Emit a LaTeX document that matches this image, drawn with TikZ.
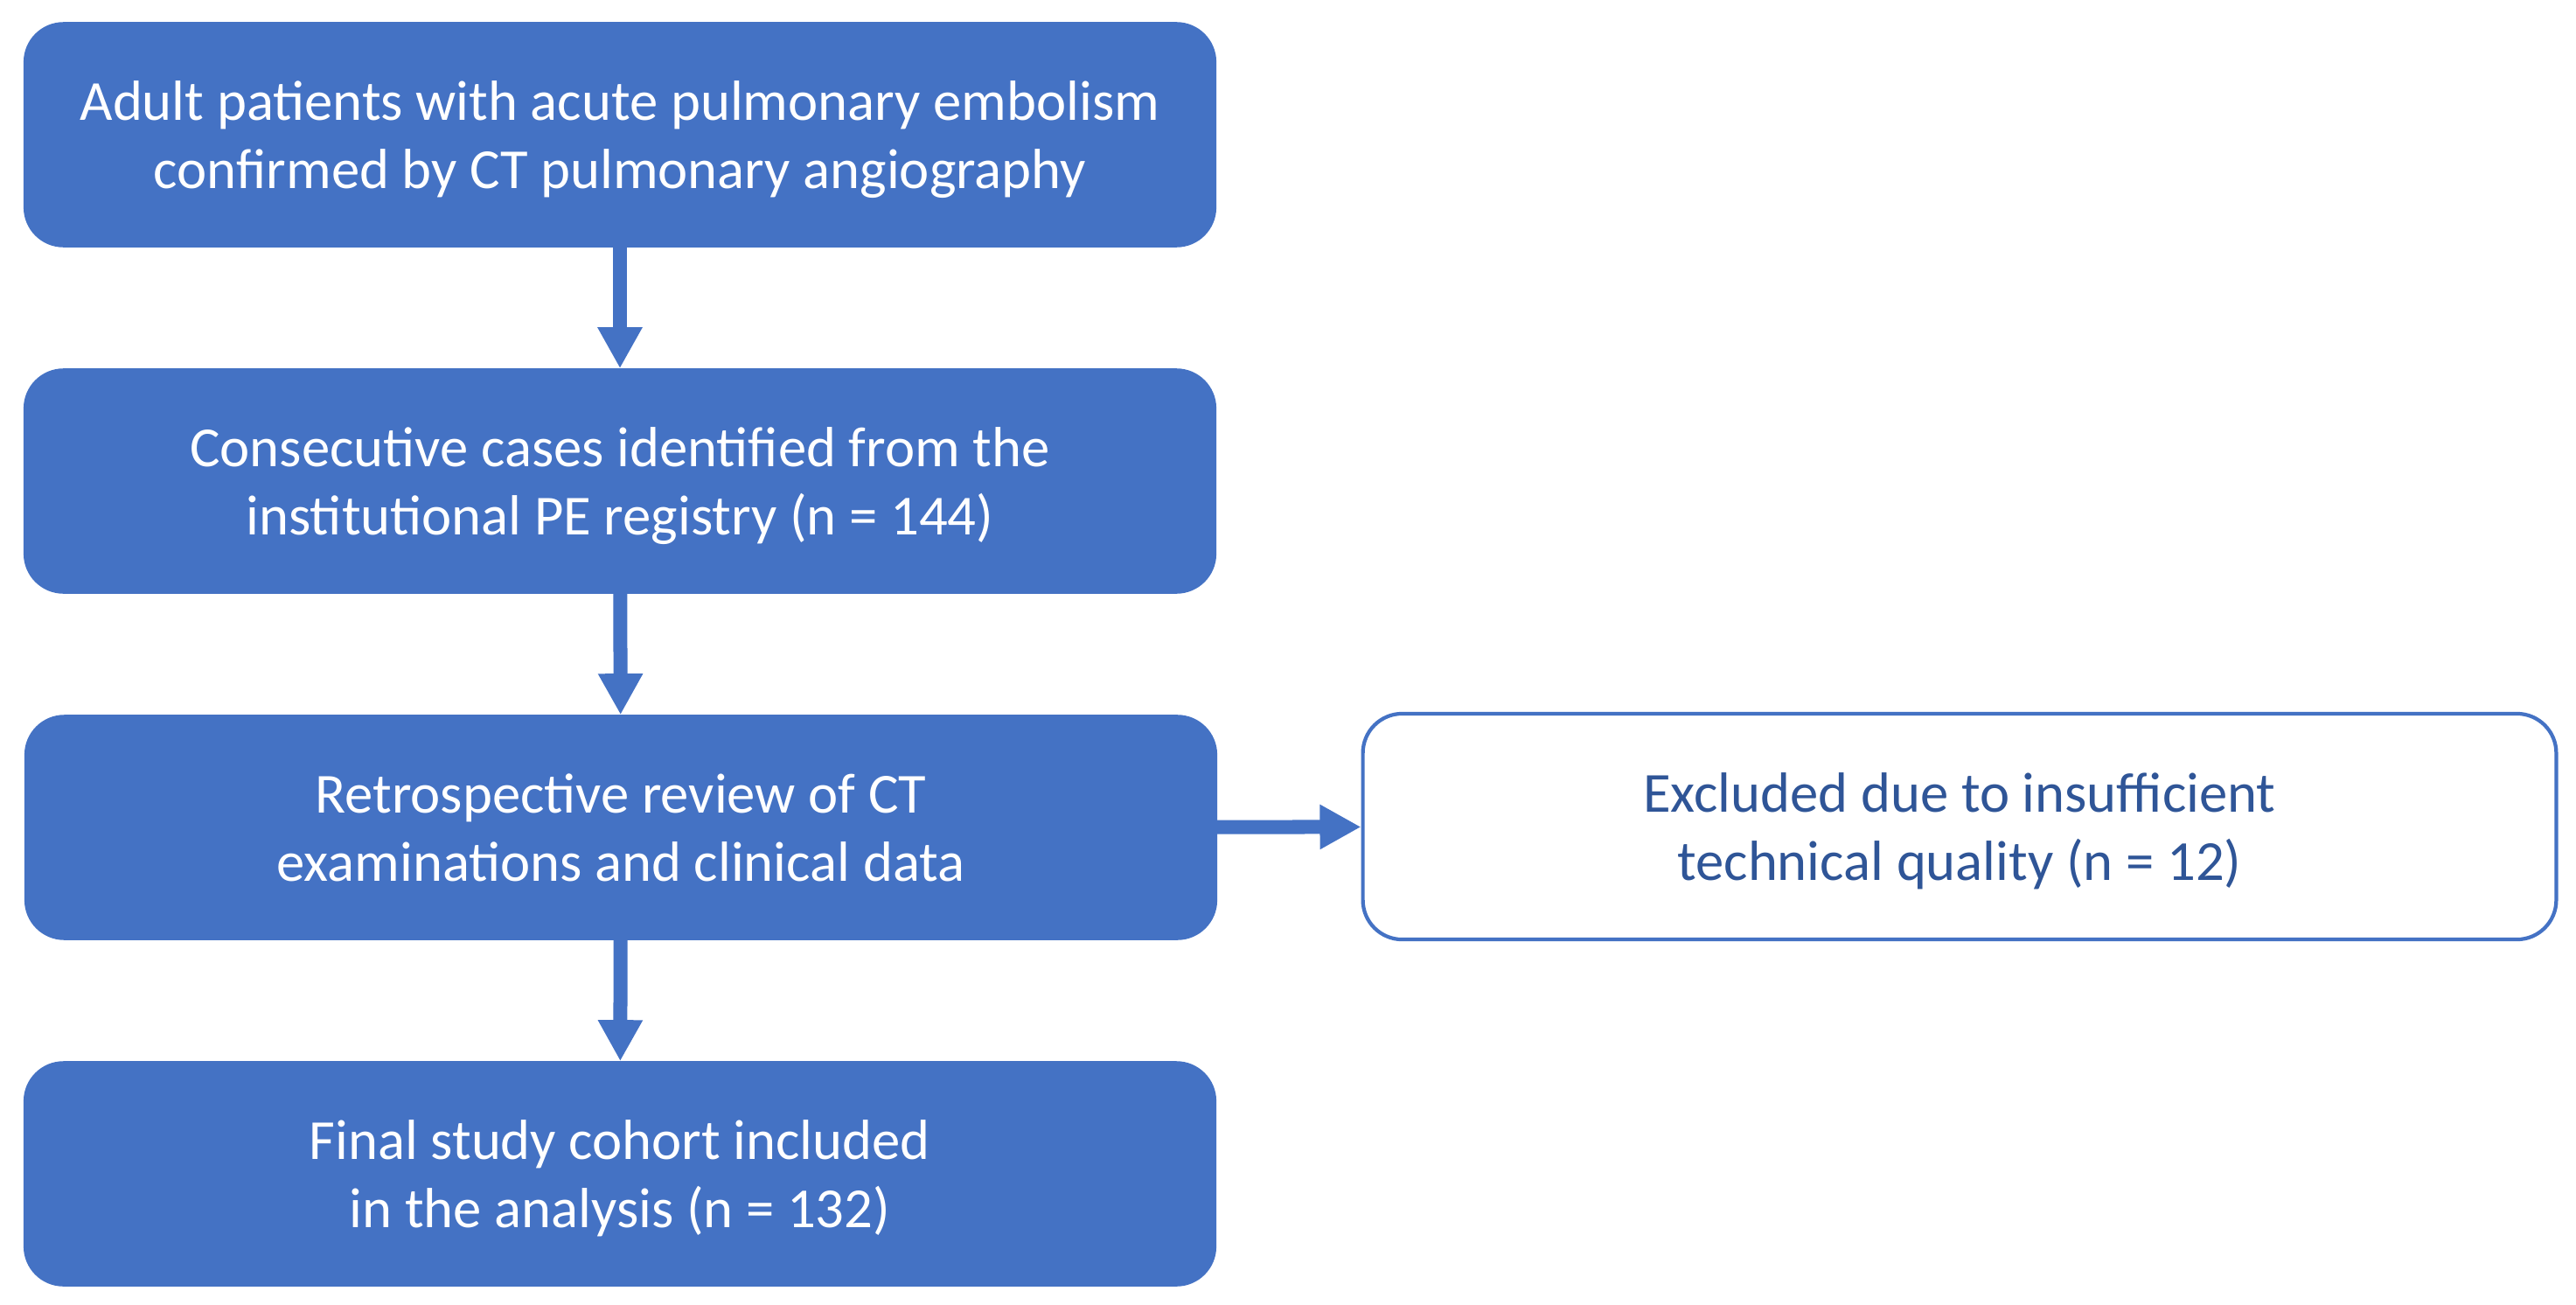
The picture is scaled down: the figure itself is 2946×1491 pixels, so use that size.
\documentclass[tikz,border=0pt]{standalone}
\usepackage{fontspec}
\setmainfont{Carlito}
\usetikzlibrary{arrows.meta}
\definecolor{obl}{HTML}{4472C4}
\definecolor{dbl}{HTML}{2F5597}
\begin{document}
\begin{tikzpicture}[x=0.01cm,y=-0.01cm,
  fbox/.style={draw=obl,fill=obl,rounded corners=0.45cm,minimum width=13.62cm,minimum height=2.56cm,inner sep=0pt,text=white,align=center,text depth=0pt,font=\fontsize{18.4}{22}\selectfont},
  wbox/.style={draw=obl,line width=1.2pt,fill=white,rounded corners=0.45cm,minimum width=13.64cm,minimum height=2.58cm,inner sep=0pt,text=dbl,align=center,text depth=0pt,font=\fontsize{18.4}{22}\selectfont},
  arr/.style={draw=obl,line width=0.16cm,-{Triangle[length=0.47cm,width=0.48cm]},shorten >=0pt}]
\useasboundingbox (0,0) rectangle (2946,1491);
\node[fbox] (a) at (709,154) {Adult patients with acute pulmonary embolism\\confirmed by CT pulmonary angiography};
\node[fbox] (b) at (709,550) {Consecutive cases identified from the\\institutional PE registry (n = 144)};
\node[fbox] (c) at (710,946) {Retrospective review of CT\\examinations and clinical data};
\node[fbox] (d) at (709,1342) {Final study cohort included\\in the analysis (n = 132)};
\node[wbox] (e) at (2241,945) {Excluded due to insufficient\\technical quality (n = 12)};
\draw[arr] (a) -- (b);
\draw[arr] (b) -- (c);
\draw[arr] (c) -- (d);
\draw[arr] (c) -- (e);
\end{tikzpicture}
\end{document}
